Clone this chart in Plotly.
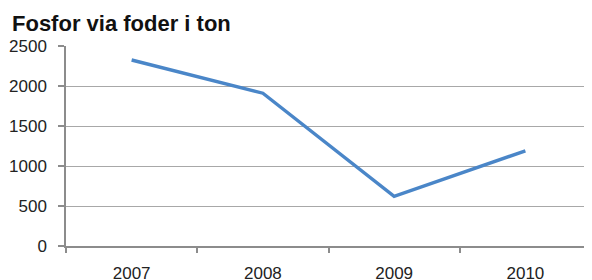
import plotly.graph_objects as go

years = ["2007", "2008", "2009", "2010"]
fosfor_ton = [2325, 1910, 620, 1190]
y_ticks = [0, 500, 1000, 1500, 2000, 2500]

# page body has an 8px default margin, so the figure is sized to fit the window
W, H = 584, 272

fig = go.Figure()
fig.add_trace(go.Scatter(
    x=years, y=fosfor_ton, mode="lines",
    line=dict(color="#4a86c8", width=3.4),
    hoverinfo="skip",
))

fig.update_layout(
    width=W, height=H,
    margin=dict(l=58, r=1, t=38, b=34),
    paper_bgcolor="white", plot_bgcolor="white",
    showlegend=False,
    font=dict(family="Liberation Sans, Arial, sans-serif", size=17, color="#222222"),
    title=dict(
        text="<b>Fosfor via foder i ton</b>",
        x=4 / W, xanchor="left", xref="container",
        y=1 - 15 / H, yanchor="middle", yref="container",
        font=dict(family="Liberation Sans, Arial, sans-serif", size=22, color="#111111"),
    ),
)

fig.update_xaxes(
    type="category", range=[-0.5, 3.5],
    showline=True, linecolor="#8c8c8c", linewidth=1.5,
    showgrid=False, zeroline=False,
    ticks="outside", tickson="boundaries", ticklen=5, tickcolor="#8c8c8c", tickwidth=1.5,
    ticklabelstandoff=11, automargin=False,
)
fig.update_yaxes(
    range=[0, 2500], tickvals=y_ticks,
    showline=True, linecolor="#8c8c8c", linewidth=1.5,
    showgrid=True, gridcolor="#a8a8a8", gridwidth=1.2,
    zeroline=False,
    ticks="outside", ticklen=6, tickcolor="#8c8c8c", tickwidth=1.5,
    ticklabelstandoff=8, automargin=False,
)

fig.write_html("out.html")
